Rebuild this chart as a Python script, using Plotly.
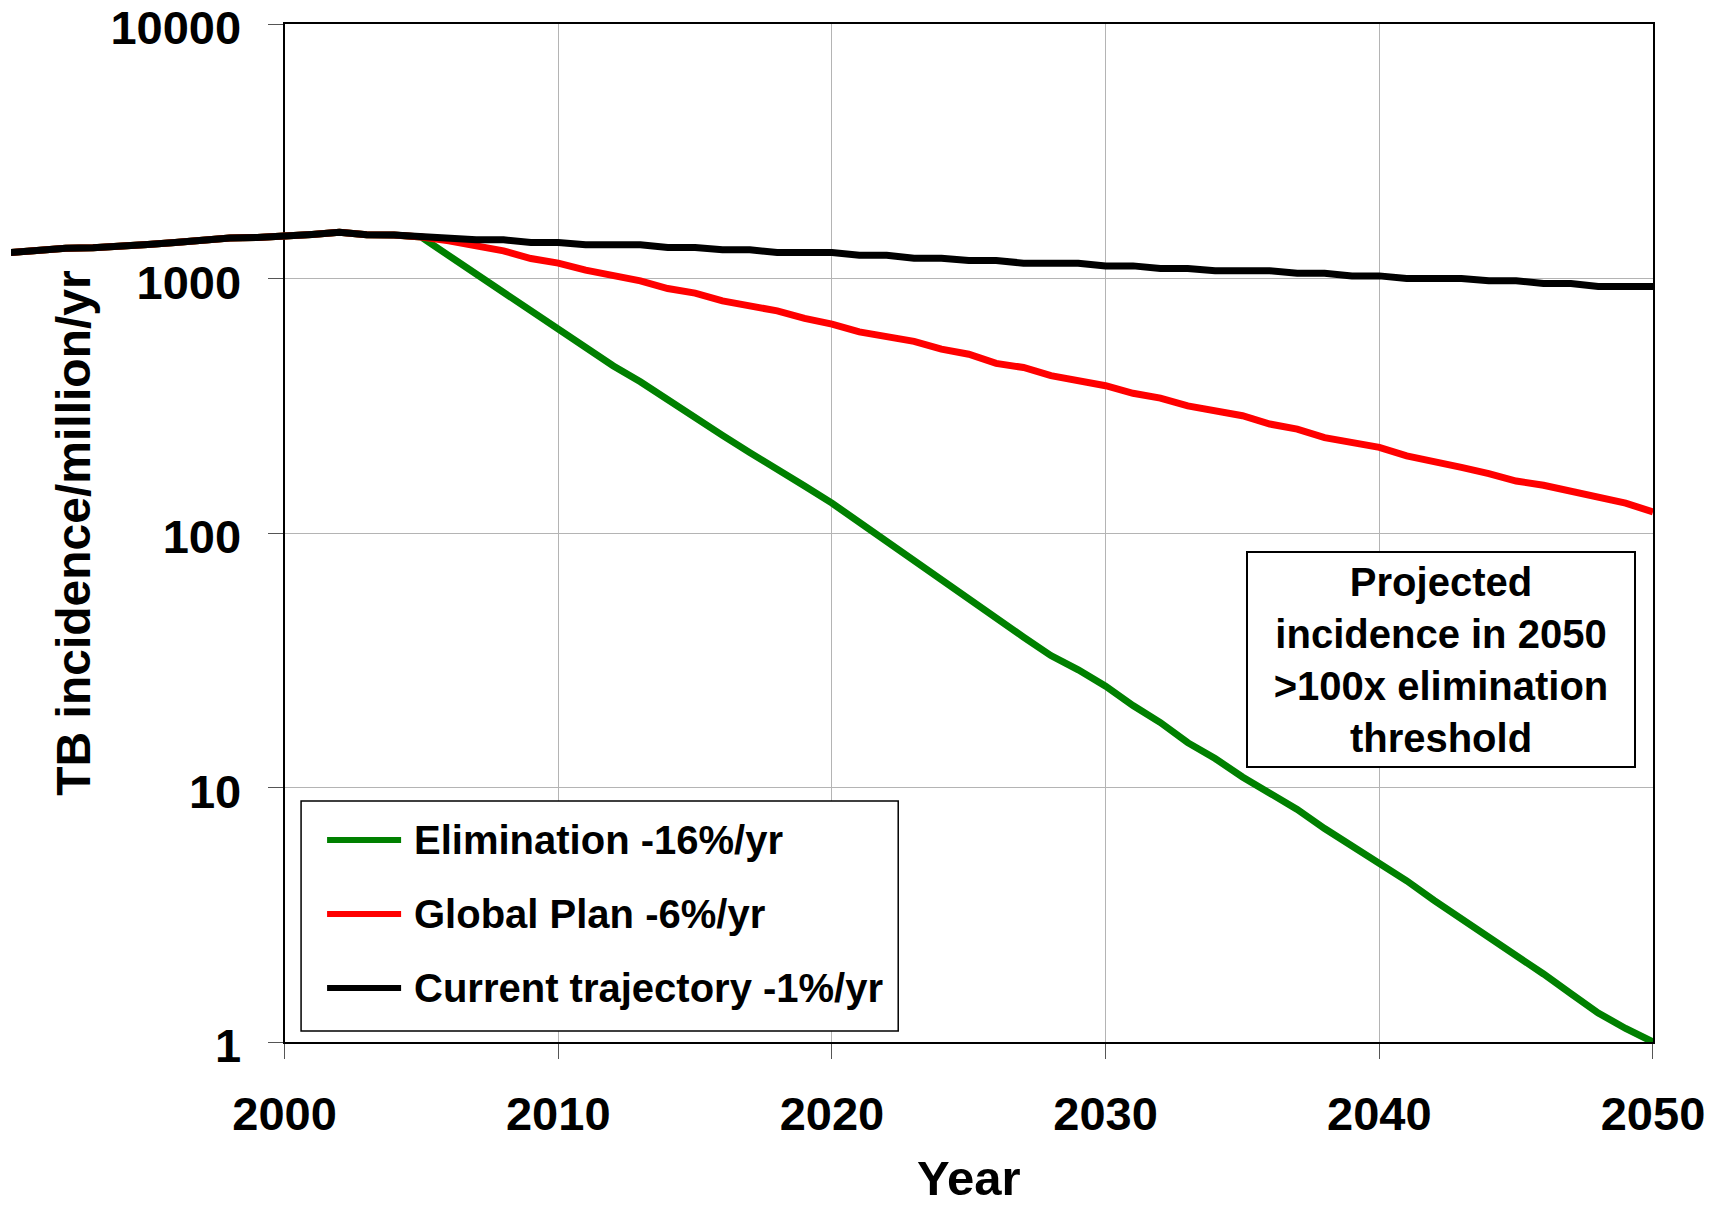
import plotly.graph_objects as go

# ---------------- data ----------------
history_years = list(range(1990, 2005))
history = [1266, 1295, 1316, 1320, 1332, 1360, 1386, 1415, 1441, 1450,
           1481, 1490, 1518, 1486, 1481]

proj_years = list(range(2005, 2051))
elimination = [1455, 1230, 1040, 881, 745, 632, 535, 454, 393, 333,
               284, 242, 207, 179, 153, 131, 110, 93, 78, 65,
               55, 46, 39, 33, 29, 25, 21, 18, 15, 13,
               11, 9.5, 8.2, 6.9, 5.9, 5.1, 4.3, 3.6, 3.05, 2.6,
               2.2, 1.85, 1.55, 1.3, 1.13, 1.0]
global_plan = [1455, 1406, 1344, 1284, 1198, 1149, 1078, 1031, 979, 913,
               876, 817, 781, 746, 697, 662, 617, 592, 566, 528,
               504, 464, 447, 415, 396, 379, 354, 339, 316, 302,
               289, 268, 256, 237, 227, 217, 201, 192, 181, 171,
               160, 154, 146, 137, 131, 121]
current = [1455, 1449, 1419, 1419, 1385, 1385, 1356, 1356, 1356, 1324,
           1324, 1296, 1296, 1265, 1265, 1265, 1235, 1235, 1202, 1202,
           1177, 1177, 1149, 1149, 1149, 1121, 1121, 1095, 1095, 1072,
           1072, 1072, 1049, 1049, 1024, 1024, 1000, 1000, 1000, 979,
           979, 956, 956, 930, 930, 930]

series_names = ["Elimination -16%/yr", "Global Plan -6%/yr", "Current trajectory -1%/yr"]
series_values = [elimination, global_plan, current]
series_colors = ["#008000", "#ff0000", "#000000"]

x_ticks = [2000, 2010, 2020, 2030, 2040, 2050]
y_ticks = [1, 10, 100, 1000, 10000]
box_lines = ["Projected", "incidence in 2050", ">100x elimination", "threshold"]

# ---------------- layout geometry (page pixels) ----------------
OFF = 8                      # default body margin of the html page
W, H = 1716 - OFF, 1205 - OFF
PAGE_X2000, PAGE_X1990, PAGE_RIGHT = 284.5, 10.9, 1652.6
PAGE_TOP, PAGE_BOTTOM = 24, 1042
ML = 0
MR = W - (PAGE_RIGHT - OFF)
MT = PAGE_TOP - OFF
MB = H - (PAGE_BOTTOM - OFF)
PW = W - ML - MR
PH = H - MT - MB


def xp(px):
    return (px - OFF - ML) / PW


def yp(py):
    return (PAGE_BOTTOM - py) / PH


FONT = "Liberation Sans, Arial, Helvetica, sans-serif"

fig = go.Figure()
# empty trace so that the visible (framed) 2000-2050 subplot is created
fig.add_trace(go.Scatter(x=[], y=[], xaxis="x", yaxis="y", mode="lines",
                         showlegend=False, hoverinfo="skip"))
for name, vals, col in zip(series_names, series_values, series_colors):
    fig.add_trace(go.Scatter(
        x=history_years + proj_years,
        y=history + vals,
        mode="lines",
        name=name,
        line=dict(color=col, width=7),
        xaxis="x2", yaxis="y2",
        showlegend=False,
    ))

fig.update_layout(
    template="none",
    width=W, height=H,
    margin=dict(l=ML, r=MR, t=MT, b=MB, pad=0, autoexpand=False),
    paper_bgcolor="white",
    plot_bgcolor="rgba(0,0,0,0)",
    showlegend=False,
    font=dict(family=FONT, size=46, color="black", weight="bold"),
    xaxis=dict(
        domain=[xp(PAGE_X2000), 1], range=[x_ticks[0], x_ticks[-1]], anchor="y",
        automargin=False,
        tickmode="array", tickvals=x_ticks, ticktext=[str(v) for v in x_ticks],
        ticks="outside", ticklen=15, tickwidth=1, tickcolor="#555555",
        ticklabelstandoff=15, ticklabeloverflow="allow",
        showline=True, linewidth=2, linecolor="black", mirror=True,
        showgrid=True, gridcolor="#b4b4b4", gridwidth=1, zeroline=False,
        tickfont=dict(family=FONT, size=47, color="black", weight="bold"),
        title=dict(text="Year", standoff=47,
                   font=dict(family=FONT, size=49, color="black", weight="bold")),
    ),
    yaxis=dict(
        domain=[0, 1], type="log", range=[0, 4], anchor="x",
        automargin=False,
        tickmode="array", tickvals=y_ticks, ticktext=[str(v) for v in y_ticks],
        ticks="outside", ticklen=15, tickwidth=1, tickcolor="#555555",
        ticklabelstandoff=17, ticklabelshift=4, ticklabeloverflow="allow",
        showline=True, linewidth=2, linecolor="black", mirror=True,
        showgrid=True, gridcolor="#b4b4b4", gridwidth=1, zeroline=False,
        tickfont=dict(family=FONT, size=47, color="black", weight="bold"),
        title=dict(text="TB incidence/million/yr", standoff=5,
                   font=dict(family=FONT, size=48, color="black", weight="bold")),
    ),
    xaxis2=dict(domain=[xp(PAGE_X1990), 1], range=[history_years[0], x_ticks[-1]],
                anchor="y2", visible=False, automargin=False),
    yaxis2=dict(domain=[0, 1], type="log", range=[0, 4], anchor="x2",
                visible=False, automargin=False),
)

# ---------------- legend (drawn as a framed box) ----------------
shapes = [dict(type="rect", xref="paper", yref="paper",
               x0=xp(301), x1=xp(898), y0=yp(1031), y1=yp(801),
               line=dict(color="black", width=1.5), fillcolor="white", layer="above")]
annotations = []
legend_rows = [840, 914, 988]
for row_y, name, col in zip(legend_rows, series_names, series_colors):
    shapes.append(dict(type="line", xref="paper", yref="paper",
                       x0=xp(327), x1=xp(401), y0=yp(row_y), y1=yp(row_y),
                       line=dict(color=col, width=6), layer="above"))
    annotations.append(dict(xref="paper", yref="paper", x=xp(412), y=yp(row_y),
                            xanchor="left", yanchor="middle", showarrow=False,
                            text=name,
                            font=dict(family=FONT, size=40, color="black", weight="bold")))

# ---------------- text box ----------------
annotations.append(dict(
    xref="paper", yref="paper", x=xp(1441), y=yp(660),
    xanchor="center", yanchor="middle", showarrow=False, align="center",
    text="<br>".join(box_lines),
    width=382, height=209, borderpad=2, borderwidth=2,
    bordercolor="black", bgcolor="white",
    font=dict(family=FONT, size=40, color="black", weight="bold"),
))

fig.update_layout(shapes=shapes, annotations=annotations)
fig.write_html("out.html")
